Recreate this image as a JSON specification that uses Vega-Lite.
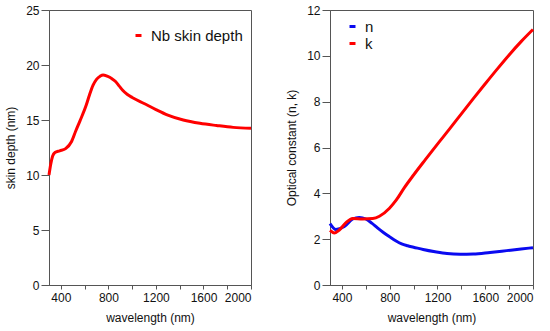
{
  "$schema": "https://vega.github.io/schema/vega-lite/v6.json",
  "padding": {"left": 4, "top": 3, "right": 2, "bottom": 2},
  "background": "white",
  "config": {
    "font": "Liberation Sans",
    "view": {"stroke": "#555", "strokeWidth": 1},
    "axis": {
      "grid": false, "labelFontSize": 12, "titleFontSize": 12, "titleFontWeight": "normal",
      "labelColor": "#111", "titleColor": "#111", "domainColor": "#555", "tickColor": "#555",
      "labelFont": "Liberation Sans", "titleFont": "Liberation Sans"
    },
    "legend": {
      "orient": "none", "symbolType": "stroke", "symbolStrokeWidth": 3, "symbolSize": 36,
      "labelFontSize": 15, "labelFont": "Liberation Sans", "labelColor": "#111", "labelOffset": 5,
      "padding": 0, "rowPadding": 1, "title": null
    }
  },
  "datasets": {
    "skin": [
      {"wavelength": 300, "depth": 10.0, "series": "Nb skin depth"},
      {"wavelength": 315, "depth": 11.0, "series": "Nb skin depth"},
      {"wavelength": 330, "depth": 11.7, "series": "Nb skin depth"},
      {"wavelength": 350, "depth": 12.05, "series": "Nb skin depth"},
      {"wavelength": 390, "depth": 12.2, "series": "Nb skin depth"},
      {"wavelength": 440, "depth": 12.4, "series": "Nb skin depth"},
      {"wavelength": 490, "depth": 13.05, "series": "Nb skin depth"},
      {"wavelength": 525, "depth": 14.0, "series": "Nb skin depth"},
      {"wavelength": 560, "depth": 14.9, "series": "Nb skin depth"},
      {"wavelength": 615, "depth": 16.4, "series": "Nb skin depth"},
      {"wavelength": 640, "depth": 17.25, "series": "Nb skin depth"},
      {"wavelength": 670, "depth": 18.15, "series": "Nb skin depth"},
      {"wavelength": 700, "depth": 18.7, "series": "Nb skin depth"},
      {"wavelength": 730, "depth": 18.98, "series": "Nb skin depth"},
      {"wavelength": 755, "depth": 19.1, "series": "Nb skin depth"},
      {"wavelength": 790, "depth": 18.98, "series": "Nb skin depth"},
      {"wavelength": 830, "depth": 18.75, "series": "Nb skin depth"},
      {"wavelength": 860, "depth": 18.5, "series": "Nb skin depth"},
      {"wavelength": 890, "depth": 18.1, "series": "Nb skin depth"},
      {"wavelength": 920, "depth": 17.7, "series": "Nb skin depth"},
      {"wavelength": 960, "depth": 17.32, "series": "Nb skin depth"},
      {"wavelength": 1000, "depth": 17.05, "series": "Nb skin depth"},
      {"wavelength": 1100, "depth": 16.5, "series": "Nb skin depth"},
      {"wavelength": 1200, "depth": 15.95, "series": "Nb skin depth"},
      {"wavelength": 1300, "depth": 15.45, "series": "Nb skin depth"},
      {"wavelength": 1430, "depth": 15.0, "series": "Nb skin depth"},
      {"wavelength": 1570, "depth": 14.7, "series": "Nb skin depth"},
      {"wavelength": 1710, "depth": 14.5, "series": "Nb skin depth"},
      {"wavelength": 1850, "depth": 14.33, "series": "Nb skin depth"},
      {"wavelength": 2000, "depth": 14.25, "series": "Nb skin depth"}
    ],
    "nk": [
      {"wavelength": 300, "value": 2.68, "series": "n"},
      {"wavelength": 350, "value": 2.42, "series": "n"},
      {"wavelength": 420, "value": 2.55, "series": "n"},
      {"wavelength": 490, "value": 2.88, "series": "n"},
      {"wavelength": 545, "value": 2.95, "series": "n"},
      {"wavelength": 600, "value": 2.88, "series": "n"},
      {"wavelength": 650, "value": 2.7, "series": "n"},
      {"wavelength": 700, "value": 2.48, "series": "n"},
      {"wavelength": 750, "value": 2.28, "series": "n"},
      {"wavelength": 800, "value": 2.1, "series": "n"},
      {"wavelength": 850, "value": 1.93, "series": "n"},
      {"wavelength": 900, "value": 1.79, "series": "n"},
      {"wavelength": 950, "value": 1.71, "series": "n"},
      {"wavelength": 1000, "value": 1.65, "series": "n"},
      {"wavelength": 1080, "value": 1.55, "series": "n"},
      {"wavelength": 1180, "value": 1.45, "series": "n"},
      {"wavelength": 1280, "value": 1.37, "series": "n"},
      {"wavelength": 1390, "value": 1.34, "series": "n"},
      {"wavelength": 1500, "value": 1.35, "series": "n"},
      {"wavelength": 1640, "value": 1.42, "series": "n"},
      {"wavelength": 1780, "value": 1.5, "series": "n"},
      {"wavelength": 1900, "value": 1.57, "series": "n"},
      {"wavelength": 2000, "value": 1.63, "series": "n"},
      {"wavelength": 300, "value": 2.38, "series": "k"},
      {"wavelength": 336, "value": 2.27, "series": "k"},
      {"wavelength": 378, "value": 2.4, "series": "k"},
      {"wavelength": 434, "value": 2.72, "series": "k"},
      {"wavelength": 490, "value": 2.9, "series": "k"},
      {"wavelength": 574, "value": 2.88, "series": "k"},
      {"wavelength": 658, "value": 2.9, "series": "k"},
      {"wavelength": 714, "value": 3.0, "series": "k"},
      {"wavelength": 798, "value": 3.35, "series": "k"},
      {"wavelength": 854, "value": 3.7, "series": "k"},
      {"wavelength": 923, "value": 4.25, "series": "k"},
      {"wavelength": 1000, "value": 4.8, "series": "k"},
      {"wavelength": 1100, "value": 5.48, "series": "k"},
      {"wavelength": 1200, "value": 6.15, "series": "k"},
      {"wavelength": 1300, "value": 6.8, "series": "k"},
      {"wavelength": 1400, "value": 7.47, "series": "k"},
      {"wavelength": 1500, "value": 8.13, "series": "k"},
      {"wavelength": 1600, "value": 8.78, "series": "k"},
      {"wavelength": 1700, "value": 9.42, "series": "k"},
      {"wavelength": 1800, "value": 10.04, "series": "k"},
      {"wavelength": 1900, "value": 10.62, "series": "k"},
      {"wavelength": 2000, "value": 11.15, "series": "k"}
    ]
  },
  "spacing": 27,
  "resolve": {"scale": {"color": "independent"}, "legend": {"color": "independent"}},
  "hconcat": [
    {
      "width": 202, "height": 275,
      "data": {"name": "skin"},
      "mark": {"type": "line", "strokeWidth": 3, "interpolate": "monotone"},
      "encoding": {
        "x": {"field": "wavelength", "type": "quantitative", "scale": {"domain": [300, 2000], "nice": false},
          "axis": {"title": "wavelength (nm)", "values": [400, 600, 800, 1000, 1200, 1400, 1600, 1800, 2000],
            "labelExpr": "datum.value % 400 === 0 ? datum.label : ''", "tickSize": 4, "labelPadding": 3, "titlePadding": 9, "format": "d"}},
        "y": {"field": "depth", "type": "quantitative", "scale": {"domain": [0, 25], "nice": false},
          "axis": {"title": "skin depth (nm)", "values": [0, 5, 10, 15, 20, 25], "tickSize": 8, "labelPadding": 2, "titlePadding": 8}},
        "color": {"field": "series", "type": "nominal", "scale": {"domain": ["Nb skin depth"], "range": ["#ff0000"]},
          "legend": {"legendX": 82, "legendY": 18}}
      }
    },
    {
      "width": 203, "height": 275,
      "data": {"name": "nk"},
      "mark": {"type": "line", "strokeWidth": 3, "interpolate": "monotone"},
      "encoding": {
        "x": {"field": "wavelength", "type": "quantitative", "scale": {"domain": [300, 2000], "nice": false},
          "axis": {"title": "wavelength (nm)", "values": [400, 600, 800, 1000, 1200, 1400, 1600, 1800, 2000],
            "labelExpr": "datum.value % 400 === 0 ? datum.label : ''", "tickSize": 4, "labelPadding": 3, "titlePadding": 9, "format": "d"}},
        "y": {"field": "value", "type": "quantitative", "scale": {"domain": [0, 12], "nice": false},
          "axis": {"title": "Optical constant (n, k)", "values": [0, 2, 4, 6, 8, 10, 12], "tickSize": 8, "labelPadding": 2, "titlePadding": 8}},
        "color": {"field": "series", "type": "nominal", "sort": ["n", "k"], "scale": {"domain": ["n", "k"], "range": ["#0a0af0", "#ff0000"]},
          "legend": {"legendX": 15, "legendY": 9}}
      }
    }
  ]
}
